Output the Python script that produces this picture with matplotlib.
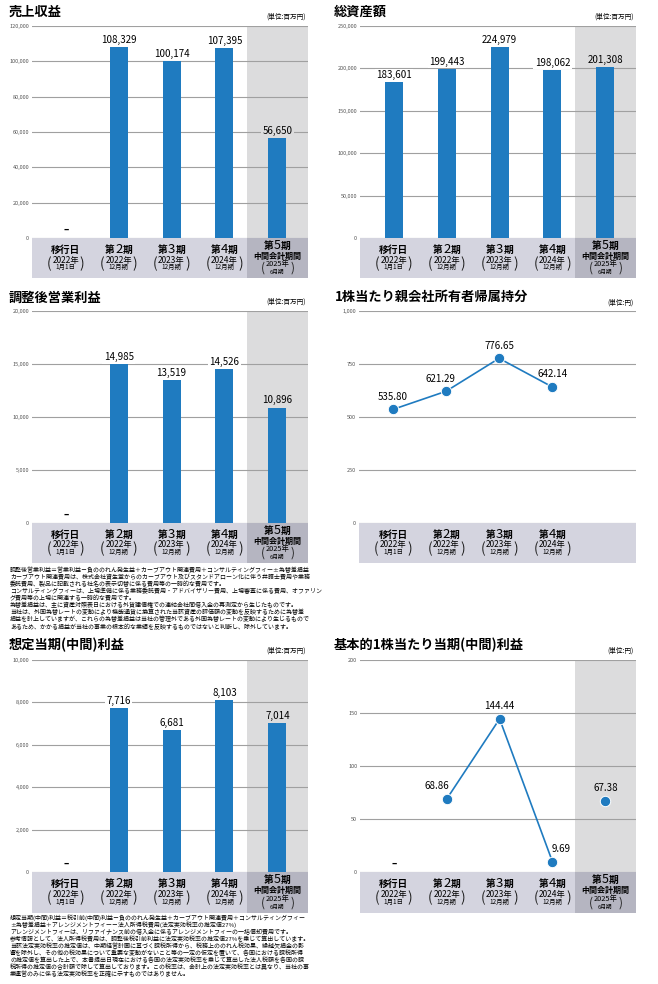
import numpy as np
import matplotlib
matplotlib.use("Agg")
import matplotlib.pyplot as plt

plt.rcParams['font.family'] = ['Noto Sans CJK JP', 'DejaVu Sans']

# data
periods = ['移行日', '第2期', '第3期', '第4期', '第5期']
years = ['2022年', '2022年', '2023年', '2024年', '2025年']
months = ['1月1日', '12月期', '12月期', '12月期', '6月期']

sales = [None, 108329, 100174, 107395, 56650]          # 売上収益
total_assets = [183601, 199443, 224979, 198062, 201308]  # 総資産額
adj_op_profit = [None, 14985, 13519, 14526, 10896]     # 調整後営業利益
bps = [535.80, 621.29, 776.65, 642.14]                 # 1株当たり親会社所有者帰属持分
adj_net_profit = [None, 7716, 6681, 8103, 7014]        # 想定当期(中間)利益
eps = [None, 68.86, 144.44, 9.69, 67.38]               # 基本的1株当たり当期(中間)利益

note1 = ("調整後営業利益＝営業利益－負ののれん発生益＋カーブアウト関連費用＋コンサルティングフィー±為替差損益\n"
         "カーブアウト関連費用は、株式会社資生堂からのカーブアウト及びスタンドアローン化に伴う弁護士費用や業務\n"
         "委託費用、製品に記載される社名の表示切替に係る費用等の一時的な費用です。\n"
         "コンサルティングフィーは、上場準備に係る業務委託費用・アドバイザリー費用、上場審査に係る費用、オファリン\n"
         "グ費用等の上場に関連する一時的な費用です。\n"
         "為替差損益は、主に資産対照表日における外貨建債権での連結会社間借入金の再測定から生じたものです。\n"
         "当社は、外国為替レートの変動により機能通貨に換算された当該資産の評価額の変動を反映するために為替差\n"
         "損益を計上していますが、これらの為替差損益は当社の管理外である外国為替レートの変動により生じるもので\n"
         "あるため、かかる損益が当社の事業の根本的な業績を反映するものではないと判断し、除外しています。")
note2 = ("想定当期(中間)利益＝税引前(中間)利益－負ののれん発生益＋カーブアウト関連費用＋コンサルティングフィー\n"
         "±為替差損益＋アレンジメントフィー－法人所得税費用(法定実効税率の推定値27%)\n"
         "アレンジメントフィーは、リファイナンス前の借入金に係るアレンジメントフィーの一括償却費用です。\n"
         "参考情報として、法人所得税費用は、調整後税引前利益に法定実効税率の推定値27%を乗じて算出しています。\n"
         "当該法定実効税率の推定値は、中期経営計画に基づく課税所得から、税務上ののれん税効果、繰越欠損金の影\n"
         "響を除外し、その他の税効果について重要な変動がないこと等の一定の仮定を置いて、各国における課税所得\n"
         "の推定値を算出した上で、本書提出日現在における各国の法定実効税率を乗じて算出した法人税額を各国の課\n"
         "税所得の推定値の合計額で除して算出しております。この税率は、会計上の法定実効税率とは異なり、当社の事\n"
         "業運営のみに係る法定実効税率を正確に示すものではありません。")

W, H = 658, 984
BLUE = '#1f7bc0'
SHADE = '#dcdcdd'
BAND = '#d4d4df'
BAND5 = '#b5b5c1'
GRID = '#a0a0a0'
XL = (-0.64, 4.58)
SH = 3.42

fig = plt.figure(figsize=(W / 100, H / 100), dpi=100)


def px_axes(left, top, right, bottom):
    return fig.add_axes([left / W, 1 - bottom / H, (right - left) / W, (bottom - top) / H])


def period_label(bx, x, y, name, size=9.5):
    if name == '移行日':
        bx.text(x, y, name, ha='center', va='baseline', fontsize=7, fontweight='bold')
        return
    bx.annotate(name[0], (x, y), xytext=(-2.7, 0), textcoords='offset points',
                ha='right', va='baseline', fontsize=7, fontweight='bold')
    bx.text(x, y, name[1], ha='center', va='baseline', fontsize=size)
    bx.annotate(name[2], (x, y), xytext=(2.7, 0), textcoords='offset points',
                ha='left', va='baseline', fontsize=7, fontweight='bold')


def band(left, top, right, bottom, n, shaded=True):
    bx = px_axes(left, top, right, bottom)
    bx.set_xlim(XL)
    bx.set_ylim(0, 1)
    bx.axis('off')
    bx.axvspan(XL[0], XL[1], color=BAND, lw=0)
    if shaded:
        bx.axvspan(SH, XL[1], color=BAND5, lw=0)
    for i in range(n):
        if i < 4:
            period_label(bx, i, 0.63, periods[i])
            bx.text(i, 0.45, years[i], ha='center', va='center', fontsize=6)
            bx.text(i, 0.27, months[i], ha='center', va='center', fontsize=4.6)
            bx.text(i - 0.31, 0.36, '(', ha='center', va='center', fontsize=10, color='#222222')
            bx.text(i + 0.31, 0.36, ')', ha='center', va='center', fontsize=10, color='#222222')
        else:
            period_label(bx, i, 0.73, periods[i], size=9)
            bx.text(i, 0.545, '中間会計期間', ha='center', va='center', fontsize=5.8, fontweight='bold')
            bx.text(i, 0.345, years[i], ha='center', va='center', fontsize=5.3)
            bx.text(i, 0.13, months[i], ha='center', va='center', fontsize=4.1)
            bx.text(i - 0.28, 0.24, '(', ha='center', va='center', fontsize=8.5, color='#222222')
            bx.text(i + 0.28, 0.24, ')', ha='center', va='center', fontsize=8.5, color='#222222')
    return bx


def base_axes(left, top, right, zero, ymax, step, fmt, shaded=True):
    ax = px_axes(left, top, right, zero)
    ax.set_xlim(XL)
    ax.set_ylim(0, ymax)
    ticks = np.arange(0, ymax + step / 2, step)
    ax.set_yticks(ticks)
    ax.set_yticklabels([fmt.format(t) for t in ticks])
    ax.set_xticks([])
    ax.tick_params(axis='y', length=0, pad=2, labelsize=4, labelcolor='#555555')
    for s in ax.spines.values():
        s.set_visible(False)
    ax.set_axisbelow(True)
    ax.yaxis.grid(True, color=GRID, lw=0.8)
    if shaded:
        ax.axvspan(SH, XL[1], color=SHADE, lw=0, zorder=0)
    return ax


def titles(x_title, y_title, x_unit, y_unit, title, unit):
    fig.text(x_title / W, 1 - y_title / H, title, fontsize=9.5, fontweight='bold',
             ha='left', va='center')
    fig.text(x_unit / W, 1 - y_unit / H, unit, fontsize=4.8, ha='right', va='center')


def dash(ax):
    ax.annotate('–', (0, 0), xytext=(0, 2), textcoords='offset points',
                ha='center', va='bottom', fontsize=7, fontweight='bold')


def bar_panel(left, top, right, zero, bottom, values, ymax, step, title, xt, yt, yu):
    ax = base_axes(left, top, right, zero, ymax, step, '{:,.0f}')
    for i, v in enumerate(values):
        if v is None:
            dash(ax)
            continue
        ax.bar(i, v, width=0.34, color=BLUE, zorder=2)
        bg = SHADE if i == 4 else 'white'
        ax.annotate(f'{v:,}', (i, v), xytext=(0, 1.5), textcoords='offset points',
                    ha='center', va='bottom', fontsize=7, zorder=3,
                    bbox=dict(boxstyle='square,pad=0.15', fc=bg, ec='none'))
    band(left, zero, right, bottom, 5)
    titles(xt, yt, right - 2, yu, title, '(単位:百万円)')
    return ax


bar_panel(32, 26, 308, 238, 278, sales, 120000, 20000, '売上収益', 9, 12, 17)
bar_panel(360, 26, 636, 238, 278, total_assets, 250000, 50000, '総資産額', 334, 12, 17)
bar_panel(32, 311, 308, 523, 563, adj_op_profit, 20000, 5000, '調整後営業利益', 9, 298, 302)
bar_panel(32, 660, 308, 872, 913, adj_net_profit, 10000, 2000, '想定当期(中間)利益', 9, 645, 651)

# 1株当たり親会社所有者帰属持分
ax4 = base_axes(359, 311, 636, 523, 1000, 250, '{:,.0f}', shaded=False)
x4 = np.arange(len(bps))
ax4.plot(x4, bps, color=BLUE, lw=1.2, marker='o', ms=7.5, mec='white', mew=0.7, zorder=3)
for i, v, dx in zip(x4, bps, [0, -4, 0, 0]):
    ax4.annotate(f'{v:.2f}', (i, v), xytext=(dx, 5.5), textcoords='offset points',
                 ha='center', va='bottom', fontsize=7)
band(359, 523, 636, 563, 4, shaded=False)
titles(335, 297, 634, 303, '1株当たり親会社所有者帰属持分', '(単位:円)')

# 基本的1株当たり当期(中間)利益
ax6 = base_axes(360, 660, 636, 872, 200, 50, '{:.0f}')
x6 = np.arange(len(eps))
dash(ax6)
ax6.plot(x6[1:4], eps[1:4], color=BLUE, lw=1.2, marker='o', ms=7.5, mec='white', mew=0.7, zorder=3)
ax6.plot(x6[4], eps[4], color=BLUE, marker='o', ms=7.5, mec='white', mew=0.7, zorder=3)
for i, dx in zip(range(1, 5), [-7, 0, 6, 0]):
    ax6.annotate(f'{eps[i]:.2f}', (i, eps[i]), xytext=(dx, 5.5), textcoords='offset points',
                 ha='center', va='bottom', fontsize=7)
band(360, 872, 636, 913, 5)
titles(334, 645, 634, 651, '基本的1株当たり当期(中間)利益', '(単位:円)')

fig.text(10 / W, 1 - 567 / H, note1, fontsize=4.3, ha='left', va='top', linespacing=1.15)
fig.text(10 / W, 1 - 914 / H, note2, fontsize=4.3, ha='left', va='top', linespacing=1.15)

fig.savefig('out.png', dpi=100)
